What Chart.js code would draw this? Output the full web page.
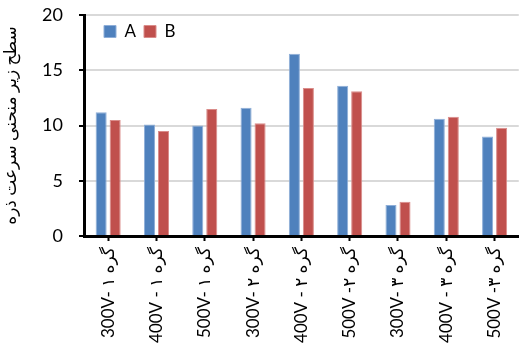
<!DOCTYPE html>
<html>
<head>
<meta charset="utf-8">
<script src="https://cdn.jsdelivr.net/npm/chart.js@4/dist/chart.umd.min.js"></script>
<style>
  html, body { margin: 0; padding: 0; background: #fff; overflow: hidden; }
  #wrap { width: 521px; height: 349px; }
</style>
</head>
<body>
<div id="wrap"><canvas id="c" width="521" height="349"></canvas></div>
<script>
// Categories: voltage and node number
const categories = [
  '300V- ۱ گره', '400V - ۱ گره', '500V- ۱ گره',
  '300V- ۲ گره', '400V - ۲ گره', '500V -۲ گره',
  '300V- ۳ گره', '400V - ۳ گره', '500V -۳ گره'
];
const seriesA = [11.2, 10.1, 10.0, 11.6, 16.5, 13.6, 2.8, 10.6, 9.0];
const seriesB = [10.5, 9.5, 11.5, 10.2, 13.4, 13.1, 3.1, 10.8, 9.8];
const yTicks = [0, 5, 10, 15, 20];
const yTitle = 'سطح زیر منحنی سرعت ذره';

const FONT = "Lato, 'DejaVu Sans', sans-serif";

// Legend inside the plot area, laid out as a single row, nudged right
const legendInside = {
  id: 'legendInside',
  beforeLayout(chart) {
    if (chart.legend) chart.legend.isHorizontal = () => true;
  },
  afterLayout(chart) {
    if (chart.legend) chart.legend.left = chart.chartArea.left + 12;
  }
};

new Chart(document.getElementById('c'), {
  type: 'bar',
  data: {
    labels: categories,
    datasets: [
      { label: 'A', data: seriesA, backgroundColor: '#4F81BD', borderColor: '#8EAED8', borderWidth: 1 },
      { label: 'B', data: seriesB, backgroundColor: '#C0504D', borderColor: '#DA8C8A', borderWidth: 1 }
    ]
  },
  options: {
    responsive: false,
    animation: false,
    categoryPercentage: 0.58,
    barPercentage: 0.79,
    layout: { padding: { top: 15, left: 0, right: 0, bottom: 0 } },
    plugins: {
      legend: {
        position: 'chartArea',
        fullSize: false,
        align: 'start',
        labels: {
          boxWidth: 12,
          boxHeight: 12,
          padding: 8,
          color: '#000',
          font: { family: FONT, size: 17 }
        }
      },
      tooltip: { enabled: false }
    },
    scales: {
      x: {
        grid: {
          offset: false,
          drawOnChartArea: false,
          drawTicks: true,
          tickLength: 5,
          tickColor: '#000',
          tickWidth: 2
        },
        border: { color: '#000', width: 3 },
        ticks: {
          minRotation: 90,
          maxRotation: 90,
          autoSkip: false,
          padding: 6,
          color: '#000',
          font: { family: FONT, size: 17 }
        },
        afterFit(scale) { scale.height = 113; }
      },
      y: {
        min: 0,
        max: 20,
        afterBuildTicks(scale) { scale.ticks = yTicks.map(v => ({ value: v })); },
        grid: {
          color: '#D9D9D9',
          lineWidth: 2,
          tickLength: 5,
          tickColor: '#000',
          tickWidth: 2
        },
        border: { color: '#000', width: 3 },
        ticks: {
          padding: 16,
          color: '#000',
          font: { family: FONT, size: 18 }
        },
        title: {
          display: true,
          text: yTitle,
          color: '#000',
          padding: { top: 0, bottom: 0 },
          font: { family: FONT, size: 17 }
        },
        afterFit(scale) {
          scale.width = 84;
          scale.paddingTop = 0;
          scale.paddingBottom = 0;
        }
      }
    }
  },
  plugins: [legendInside]
});
</script>
</body>
</html>
